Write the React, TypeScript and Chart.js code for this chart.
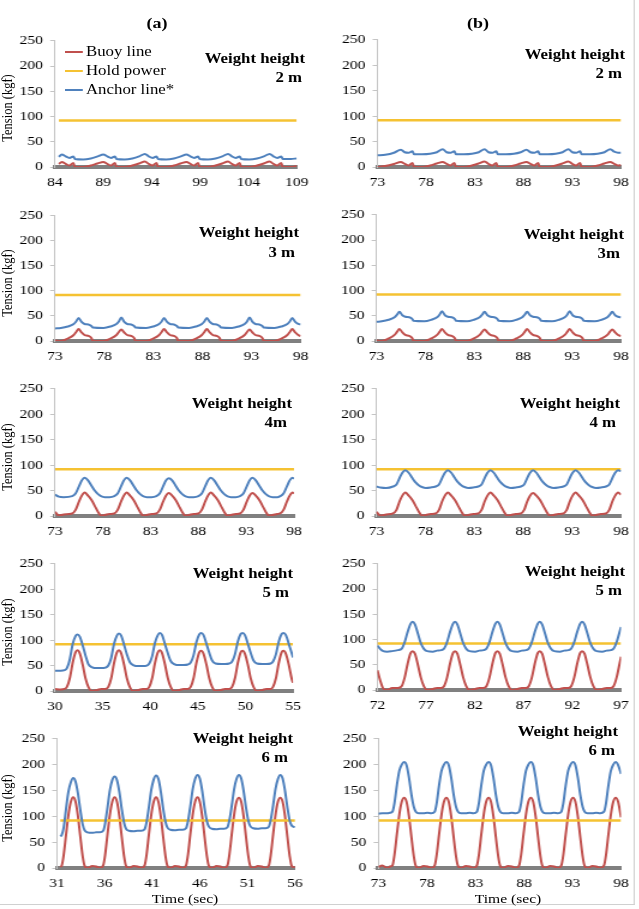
import { useEffect, useRef } from "react";
import { Chart, registerables } from "chart.js";

Chart.register(...registerables);

// ---------------- data ----------------

const HOLD_POWER = 92; // kgf
const SERIES_NAMES = ["Buoy line", "Hold power", "Anchor line*"];
const Y_TICKS = [0, 50, 100, 150, 200, 250];

const xTicks2a = [84, 89, 94, 99, 104, 109];
const xTicks73 = [73, 78, 83, 88, 93, 98];
const xTicks5a = [30, 35, 40, 45, 50, 55];
const xTicks5b = [72, 77, 82, 87, 92, 97];
const xTicks6a = [31, 36, 41, 46, 51, 56];

// (a) weight height 2 m
const time2a = [84.4, 84.7, 85.1, 85.5, 85.9, 86.05, 86.9, 87.7, 88.4, 89.0, 89.4, 89.8, 90.2, 90.35, 91.2, 92.0, 92.7, 93.3, 93.7, 94.1, 94.5, 94.65, 95.5, 96.3, 97.0, 97.6, 98.0, 98.4, 98.8, 98.95, 99.8, 100.6, 101.3, 101.9, 102.3, 102.7, 103.1, 103.25, 104.1, 104.9, 105.6, 106.2, 106.6, 107.0, 107.4, 107.55, 108.4, 109.0];
const buoy2a = [6, 10, 6, 3, 8, 0, 0, 3, 7, 10, 6, 3, 8, 0, 0, 3, 7, 11, 6, 3, 8, 0, 0, 3, 7, 10, 6, 3, 8, 0, 0, 3, 7, 11, 6, 3, 8, 0, 0, 3, 7, 11, 6, 3, 8, 0, 0, 2];
const anchor2a = [20, 25, 21, 18, 21, 16, 15, 17, 21, 25, 21, 18, 21, 16, 15, 17, 21, 26, 21, 18, 21, 16, 15, 17, 21, 25, 21, 18, 21, 16, 15, 17, 21, 26, 21, 18, 21, 16, 15, 17, 21, 26, 21, 18, 21, 16, 16, 17];

// (b) weight height 2 m
const time2b = [73.0, 73.8, 74.7, 75.4, 75.8, 76.2, 76.6, 76.75, 77.6, 78.4, 79.1, 79.7, 80.1, 80.5, 80.9, 81.05, 81.9, 82.7, 83.4, 84.0, 84.4, 84.8, 85.2, 85.35, 86.2, 87.0, 87.7, 88.3, 88.7, 89.1, 89.5, 89.65, 90.5, 91.3, 92.0, 92.6, 93.0, 93.4, 93.8, 93.95, 94.8, 95.6, 96.3, 96.9, 97.3, 97.7, 98.0];
const buoy2b = [0, 2, 6, 10, 6, 3, 8, 0, 0, 3, 7, 10, 6, 3, 8, 0, 0, 3, 7, 11, 6, 3, 8, 0, 0, 3, 7, 10, 6, 3, 8, 0, 0, 3, 7, 11, 6, 3, 8, 0, 0, 3, 7, 10, 6, 3, 4];
const anchor2b = [23, 24, 28, 34, 29, 28, 31, 25, 25, 26, 29, 35, 29, 28, 31, 25, 25, 26, 29, 35, 29, 28, 31, 25, 25, 26, 29, 34, 29, 28, 31, 25, 25, 26, 29, 35, 29, 28, 31, 25, 25, 26, 29, 35, 30, 28, 28];

// (a) weight height 3 m
const time3a = [73.0,
  73.6, 74.3, 74.9, 75.15, 75.4, 75.7, 76.0, 76.4, 76.7, 76.85,
  77.95, 78.65, 79.25, 79.5, 79.75, 80.05, 80.35, 80.75, 81.05, 81.2,
  82.3, 83.0, 83.6, 83.85, 84.1, 84.4, 84.7, 85.1, 85.4, 85.55,
  86.65, 87.35, 87.95, 88.2, 88.45, 88.75, 89.05, 89.45, 89.75, 89.9,
  91.0, 91.7, 92.3, 92.55, 92.8, 93.1, 93.4, 93.8, 94.1, 94.25,
  95.35, 96.05, 96.65, 96.9, 97.15, 97.45, 97.75, 98.0];
const buoy3a = [1,
  0, 5, 12, 18, 24, 17, 12, 10, 6, 0,
  0, 5, 12, 18, 23, 17, 12, 10, 6, 0,
  0, 5, 12, 18, 24, 17, 12, 10, 6, 0,
  0, 5, 12, 18, 24, 17, 12, 10, 6, 0,
  0, 5, 12, 18, 23, 17, 12, 10, 6, 0,
  0, 5, 12, 18, 24, 17, 12, 10];
const anchor3a = [25,
  26, 29, 34, 39, 46, 38, 34, 33, 30, 27,
  26, 29, 34, 39, 47, 38, 34, 33, 30, 27,
  26, 29, 34, 39, 46, 38, 34, 33, 30, 27,
  26, 29, 34, 39, 46, 38, 34, 33, 30, 27,
  26, 29, 34, 39, 47, 38, 34, 33, 30, 27,
  26, 29, 34, 39, 46, 38, 34, 33];

// (b) weight height 3 m
const time3b = [73.0,
  73.55, 74.25, 74.85, 75.1, 75.35, 75.65, 75.95, 76.35, 76.65, 76.8,
  77.9, 78.6, 79.2, 79.45, 79.7, 80.0, 80.3, 80.7, 81.0, 81.15,
  82.25, 82.95, 83.55, 83.8, 84.05, 84.35, 84.65, 85.05, 85.35, 85.5,
  86.6, 87.3, 87.9, 88.15, 88.4, 88.7, 89.0, 89.4, 89.7, 89.85,
  90.95, 91.65, 92.25, 92.5, 92.75, 93.05, 93.35, 93.75, 94.05, 94.2,
  95.3, 96.0, 96.6, 96.85, 97.1, 97.4, 97.7, 98.0];
const buoy3b = [1,
  0, 5, 12, 18, 24, 17, 12, 10, 6, 0,
  0, 5, 12, 18, 24, 17, 12, 10, 6, 0,
  0, 5, 12, 18, 23, 17, 12, 10, 6, 0,
  0, 5, 12, 18, 24, 17, 12, 10, 6, 0,
  0, 5, 12, 18, 24, 17, 12, 10, 6, 0,
  0, 5, 12, 18, 23, 17, 12, 10];
const anchor3b = [38,
  39, 42, 47, 52, 58, 51, 48, 47, 44, 40,
  39, 42, 47, 52, 59, 51, 48, 47, 44, 40,
  39, 42, 47, 52, 58, 51, 48, 47, 44, 40,
  39, 42, 47, 52, 58, 51, 48, 47, 44, 40,
  39, 42, 47, 52, 59, 51, 48, 47, 44, 40,
  39, 42, 47, 52, 58, 51, 48, 47];

// (a) weight height 4 m
const time4a = [73.0, 73.4, 73.9,
  74.8, 75.15, 75.5, 75.8, 76.1, 76.45, 76.8, 77.15, 77.5, 77.8, 78.2, 78.7,
  79.2, 79.55, 79.9, 80.2, 80.5, 80.85, 81.2, 81.55, 81.9, 82.2, 82.6, 83.1,
  83.6, 83.95, 84.3, 84.6, 84.9, 85.25, 85.6, 85.95, 86.3, 86.6, 87.0, 87.5,
  88.0, 88.35, 88.7, 89.0, 89.3, 89.65, 90.0, 90.35, 90.7, 91.0, 91.4, 91.9,
  92.35, 92.7, 93.05, 93.35, 93.65, 94.0, 94.35, 94.7, 95.05, 95.35, 95.75, 96.25,
  96.55, 96.9, 97.25, 97.55, 97.85, 98.0];
const buoy4a = [8, 1, 3,
  5, 12, 28, 40, 46, 40, 32, 20, 8, 1, 2, 4,
  5, 12, 28, 40, 46, 40, 32, 20, 8, 1, 2, 4,
  5, 12, 28, 40, 45, 40, 32, 20, 8, 1, 2, 4,
  5, 12, 28, 40, 46, 40, 32, 20, 8, 1, 2, 4,
  5, 12, 28, 40, 45, 40, 32, 20, 8, 1, 2, 4,
  5, 12, 28, 40, 46, 44];
const anchor4a = [42, 38, 37,
  39, 44, 58, 70, 75, 70, 60, 50, 43, 39, 37, 37,
  39, 44, 58, 70, 75, 70, 60, 50, 43, 39, 37, 37,
  39, 44, 58, 70, 74, 70, 60, 50, 43, 39, 37, 37,
  39, 44, 58, 70, 75, 70, 60, 50, 43, 39, 37, 37,
  39, 44, 58, 70, 75, 70, 60, 50, 43, 39, 37, 37,
  39, 44, 58, 70, 75, 73];

// (b) weight height 4 m
const time4b = [73.0, 73.4, 74.0,
  74.7, 75.05, 75.35, 75.65, 75.95, 76.3, 76.65, 77.0, 77.35, 77.65, 78.05, 78.55,
  79.05, 79.4, 79.7, 80.0, 80.3, 80.65, 81.0, 81.35, 81.7, 82.0, 82.4, 82.9,
  83.4, 83.75, 84.05, 84.35, 84.65, 85.0, 85.35, 85.7, 86.05, 86.35, 86.75, 87.25,
  87.75, 88.1, 88.4, 88.7, 89.0, 89.35, 89.7, 90.05, 90.4, 90.7, 91.1, 91.6,
  92.1, 92.45, 92.75, 93.05, 93.35, 93.7, 94.05, 94.4, 94.75, 95.05, 95.45, 95.95,
  96.45, 96.8, 97.1, 97.4, 97.7, 98.0];
const buoy4b = [8, 1, 3,
  5, 12, 28, 40, 46, 40, 32, 20, 8, 1, 2, 4,
  5, 12, 28, 40, 46, 40, 32, 20, 8, 1, 2, 4,
  5, 12, 28, 40, 46, 40, 32, 20, 8, 1, 2, 4,
  5, 12, 28, 40, 45, 40, 32, 20, 8, 1, 2, 4,
  5, 12, 28, 40, 46, 40, 32, 20, 8, 1, 2, 4,
  5, 12, 28, 40, 46, 42];
const anchor4b = [58, 56, 55,
  58, 62, 74, 85, 90, 85, 75, 66, 60, 57, 55, 56,
  58, 62, 74, 85, 90, 85, 75, 66, 60, 57, 55, 56,
  58, 62, 74, 85, 90, 85, 75, 66, 60, 57, 55, 56,
  58, 62, 74, 85, 90, 85, 75, 66, 60, 57, 55, 56,
  58, 62, 74, 85, 90, 85, 75, 66, 60, 57, 55, 56,
  58, 62, 74, 85, 90, 88];

// (a) weight height 5 m
const time5a = [30.0, 30.6, 31.0,
  31.25, 31.55, 31.85, 32.15, 32.35, 32.6, 32.9, 33.2, 33.5, 33.85, 34.45, 34.85, 35.3,
  35.6, 35.9, 36.2, 36.5, 36.7, 36.95, 37.25, 37.55, 37.85, 38.2, 38.8, 39.2, 39.65,
  39.9, 40.2, 40.5, 40.8, 41.0, 41.25, 41.55, 41.85, 42.15, 42.5, 43.1, 43.5, 43.95,
  44.25, 44.55, 44.85, 45.15, 45.35, 45.6, 45.9, 46.2, 46.5, 46.85, 47.45, 47.85, 48.3,
  48.6, 48.9, 49.2, 49.5, 49.7, 49.95, 50.25, 50.55, 50.85, 51.2, 51.8, 52.2, 52.65,
  52.9, 53.2, 53.5, 53.8, 54.0, 54.25, 54.55, 54.85, 55.0];
const buoy5a = [4, 3, 4,
  8, 25, 55, 76, 80, 74, 52, 25, 8, 0, 2, 4, 4,
  8, 25, 55, 76, 80, 74, 52, 25, 8, 0, 2, 4, 4,
  8, 25, 55, 76, 80, 74, 52, 25, 8, 0, 2, 4, 4,
  8, 25, 55, 76, 79, 73, 52, 25, 8, 0, 2, 4, 4,
  8, 25, 55, 76, 79, 73, 52, 25, 8, 0, 2, 4, 4,
  8, 25, 55, 76, 79, 73, 52, 25, 16];
const anchor5a = [40, 40, 41,
  45, 62, 92, 108, 111, 107, 90, 70, 53, 47, 45, 45, 46,
  50, 65, 93, 109, 113, 109, 91, 72, 57, 51, 49, 49, 50,
  54, 68, 95, 110, 114, 110, 92, 74, 59, 53, 51, 51, 52,
  56, 70, 96, 111, 114, 110, 93, 75, 60, 54, 53, 53, 54,
  58, 72, 97, 112, 114, 110, 93, 75, 60, 54, 53, 53, 54,
  58, 72, 97, 112, 114, 110, 93, 75, 66];

// (b) weight height 5 m
const time5b = [72.0, 72.3, 72.6, 73.0, 73.5, 74.1,
  74.5, 74.8, 75.1, 75.4, 75.6, 75.85, 76.15, 76.45, 76.75, 77.1, 77.7, 78.1, 78.55,
  78.85, 79.15, 79.45, 79.75, 79.95, 80.2, 80.5, 80.8, 81.1, 81.45, 82.05, 82.45, 82.9,
  83.2, 83.5, 83.8, 84.1, 84.3, 84.55, 84.85, 85.15, 85.45, 85.8, 86.4, 86.8, 87.25,
  87.55, 87.85, 88.15, 88.45, 88.65, 88.9, 89.2, 89.5, 89.8, 90.15, 90.75, 91.15, 91.6,
  91.9, 92.2, 92.5, 92.8, 93.0, 93.25, 93.55, 93.85, 94.15, 94.5, 95.1, 95.5, 95.95,
  96.25, 96.55, 96.85, 97.0];
const buoy5b = [39, 18, 3, 0, 4, 4,
  8, 25, 52, 73, 77, 72, 50, 25, 8, 0, 2, 4, 4,
  8, 25, 52, 73, 77, 72, 50, 25, 8, 0, 2, 4, 4,
  8, 25, 52, 73, 77, 72, 50, 25, 8, 0, 2, 4, 4,
  8, 25, 52, 73, 77, 72, 50, 25, 8, 0, 2, 4, 4,
  8, 25, 52, 73, 77, 72, 50, 25, 8, 0, 2, 4, 4,
  8, 25, 52, 66];
const anchor5b = [88, 81, 77, 76, 77, 79,
  82, 95, 115, 131, 135, 130, 112, 93, 82, 77, 76, 78, 79,
  82, 95, 115, 131, 135, 130, 112, 93, 82, 77, 76, 78, 79,
  82, 95, 115, 131, 135, 130, 112, 93, 82, 77, 76, 78, 79,
  82, 95, 115, 131, 135, 130, 112, 93, 82, 77, 76, 78, 79,
  82, 95, 115, 131, 135, 130, 112, 93, 82, 77, 76, 78, 79,
  82, 95, 115, 125];

// (a) weight height 6 m
const time6a = [31.35,
  31.5, 31.7, 31.95, 32.2, 32.45, 32.7, 32.95, 33.2, 33.45, 33.7, 33.9, 34.2, 34.7, 35.1, 35.5,
  35.85, 36.05, 36.3, 36.55, 36.8, 37.05, 37.3, 37.55, 37.8, 38.05, 38.25, 38.55, 39.05, 39.45, 39.85,
  40.2, 40.4, 40.65, 40.9, 41.15, 41.4, 41.65, 41.9, 42.15, 42.4, 42.6, 42.9, 43.4, 43.8, 44.2,
  44.55, 44.75, 45.0, 45.25, 45.5, 45.75, 46.0, 46.25, 46.5, 46.75, 46.95, 47.25, 47.75, 48.15, 48.55,
  48.9, 49.1, 49.35, 49.6, 49.85, 50.1, 50.35, 50.6, 50.85, 51.1, 51.3, 51.6, 52.1, 52.5, 52.9,
  53.25, 53.45, 53.7, 53.95, 54.2, 54.45, 54.7, 54.95, 55.2, 55.45, 55.65, 56.0];
const buoy6a = [2,
  5, 25, 65, 103, 128, 137, 128, 100, 60, 22, 4, 0, 4, 3, 0,
  5, 25, 65, 103, 128, 137, 128, 100, 60, 22, 4, 0, 4, 3, 0,
  5, 25, 65, 103, 128, 137, 128, 100, 60, 22, 4, 0, 4, 3, 0,
  5, 25, 65, 103, 128, 137, 128, 100, 60, 22, 4, 0, 4, 3, 0,
  5, 25, 65, 103, 128, 136, 128, 100, 60, 22, 4, 0, 4, 3, 0,
  5, 25, 65, 103, 128, 136, 128, 100, 60, 22, 4, 1];
const anchor6a = [61,
  64, 78, 115, 148, 166, 174, 167, 144, 112, 84, 73, 69, 68, 69, 69,
  72, 86, 117, 150, 170, 177, 170, 147, 114, 87, 76, 72, 71, 72, 72,
  75, 88, 118, 151, 171, 179, 172, 148, 115, 89, 78, 74, 73, 74, 74,
  77, 90, 119, 152, 172, 180, 173, 149, 116, 90, 80, 76, 75, 76, 76,
  79, 92, 120, 152, 172, 180, 173, 149, 117, 91, 81, 77, 76, 77, 77,
  80, 93, 121, 153, 172, 180, 173, 149, 117, 91, 82, 79];

// (b) weight height 6 m
const time6b = [73.0, 73.4, 73.9, 74.2,
  74.45, 74.65, 74.9, 75.15, 75.4, 75.65, 75.9, 76.15, 76.4, 76.65, 76.85, 77.15, 77.65, 78.05, 78.45,
  78.8, 79.0, 79.25, 79.5, 79.75, 80.0, 80.25, 80.5, 80.75, 81.0, 81.2, 81.5, 82.0, 82.4, 82.8,
  83.15, 83.35, 83.6, 83.85, 84.1, 84.35, 84.6, 84.85, 85.1, 85.35, 85.55, 85.85, 86.35, 86.75, 87.15,
  87.5, 87.7, 87.95, 88.2, 88.45, 88.7, 88.95, 89.2, 89.45, 89.7, 89.9, 90.2, 90.7, 91.1, 91.5,
  91.85, 92.05, 92.3, 92.55, 92.8, 93.05, 93.3, 93.55, 93.8, 94.05, 94.25, 94.55, 95.05, 95.45, 95.85,
  96.25, 96.45, 96.7, 96.95, 97.2, 97.45, 97.7, 98.0];
const buoy6b = [2, 5, 0, 3,
  5, 25, 65, 103, 128, 136, 128, 100, 60, 22, 4, 0, 4, 3, 0,
  5, 25, 65, 103, 128, 136, 128, 100, 60, 22, 4, 0, 4, 3, 0,
  5, 25, 65, 103, 128, 136, 128, 100, 60, 22, 4, 0, 4, 3, 0,
  5, 25, 65, 103, 128, 136, 128, 100, 60, 22, 4, 0, 4, 3, 0,
  5, 25, 65, 103, 128, 136, 128, 100, 60, 22, 4, 0, 4, 3, 0,
  5, 25, 65, 103, 128, 136, 128, 98];
const anchor6b = [105, 106, 106, 107,
  109, 125, 160, 188, 200, 205, 199, 175, 142, 118, 109, 106, 106, 107, 106,
  109, 125, 160, 188, 200, 205, 199, 175, 142, 118, 109, 106, 106, 107, 106,
  109, 125, 160, 188, 200, 205, 199, 175, 142, 118, 109, 106, 106, 107, 106,
  109, 125, 160, 188, 200, 205, 199, 175, 142, 118, 109, 106, 106, 107, 106,
  109, 125, 160, 188, 200, 205, 199, 175, 142, 118, 109, 106, 106, 107, 106,
  109, 125, 160, 188, 200, 205, 199, 182];

// ---------------- layout & style ----------------

const FIG_W = 639;
const FIG_H = 909;
const SX = 1.2; // the figure is drawn slightly wide: everything is stretched horizontally
const SERIF = "'Liberation Serif', 'Times New Roman', Times, serif";
const COLORS = { buoy: "#c0504d", hold: "#f5c232", anchor: "#4f81bd" };
const PAD_TOP = 12;
const X_AXIS_H = 26;
const COL_X = [0, 320];
const CANVAS_W = 318;

type Box = { pl: number; pr: number; pt: number; pb: number };
type Tag = { wr: number; wy: number; hr: number; hy: number };
type Panel = {
  id: string; col: number; time: number[]; buoy: number[]; anchor: number[];
  xMin: number; xMax: number; xTicks: number[]; height: string; box: Box; tag: Tag;
};

const PANELS: Panel[] = [
  { id: "a2", col: 0, time: time2a, buoy: buoy2a, anchor: anchor2a, xMin: 84, xMax: 109, xTicks: xTicks2a, height: "2 m",
    box: { pl: 55, pr: 302, pt: 39, pb: 167 }, tag: { wr: 305, wy: 59, hr: 302, hy: 78 } },
  { id: "b2", col: 1, time: time2b, buoy: buoy2b, anchor: anchor2b, xMin: 73, xMax: 98, xTicks: xTicks73, height: "2 m",
    box: { pl: 377, pr: 623, pt: 38, pb: 167 }, tag: { wr: 625, wy: 55, hr: 622, hy: 74 } },
  { id: "a3", col: 0, time: time3a, buoy: buoy3a, anchor: anchor3a, xMin: 73, xMax: 98, xTicks: xTicks73, height: "3 m",
    box: { pl: 55, pr: 301, pt: 214, pb: 341 }, tag: { wr: 299, wy: 233, hr: 295, hy: 253 } },
  { id: "b3", col: 1, time: time3b, buoy: buoy3b, anchor: anchor3b, xMin: 73, xMax: 98, xTicks: xTicks73, height: "3m",
    box: { pl: 376, pr: 622, pt: 213, pb: 341 }, tag: { wr: 624, wy: 235, hr: 620, hy: 254 } },
  { id: "a4", col: 0, time: time4a, buoy: buoy4a, anchor: anchor4a, xMin: 73, xMax: 98, xTicks: xTicks73, height: "4m",
    box: { pl: 55, pr: 294, pt: 387, pb: 516 }, tag: { wr: 292, wy: 404, hr: 287, hy: 423 } },
  { id: "b4", col: 1, time: time4b, buoy: buoy4b, anchor: anchor4b, xMin: 73, xMax: 98, xTicks: xTicks73, height: "4 m",
    box: { pl: 376, pr: 622, pt: 387, pb: 516 }, tag: { wr: 620, wy: 404, hr: 616, hy: 423 } },
  { id: "a5", col: 0, time: time5a, buoy: buoy5a, anchor: anchor5a, xMin: 30, xMax: 55, xTicks: xTicks5a, height: "5 m",
    box: { pl: 55, pr: 293, pt: 562, pb: 691 }, tag: { wr: 293, wy: 574, hr: 289, hy: 593 } },
  { id: "b5", col: 1, time: time5b, buoy: buoy5b, anchor: anchor5b, xMin: 72, xMax: 97, xTicks: xTicks5b, height: "5 m",
    box: { pl: 377, pr: 622, pt: 562, pb: 690 }, tag: { wr: 625, wy: 572, hr: 622, hy: 591 } },
  { id: "a6", col: 0, time: time6a, buoy: buoy6a, anchor: anchor6a, xMin: 31, xMax: 56, xTicks: xTicks6a, height: "6 m",
    box: { pl: 57, pr: 295, pt: 737, pb: 868 }, tag: { wr: 293, wy: 739, hr: 288, hy: 758 } },
  { id: "b6", col: 1, time: time6b, buoy: buoy6b, anchor: anchor6b, xMin: 73, xMax: 98, xTicks: xTicks73, height: "6 m",
    box: { pl: 378, pr: 622, pt: 737, pb: 868 }, tag: { wr: 618, wy: 732, hr: 615, hy: 751 } },
];

function PanelChart({ p }: { p: Panel }) {
  const ref = useRef<HTMLCanvasElement>(null);
  const cw = Math.round(CANVAS_W / SX);
  const left = COL_X[p.col] / SX;
  const yW = p.box.pl / SX - left;
  const plotW = (p.box.pr - p.box.pl) / SX;
  const padR = cw - yW - plotW;
  const top = p.box.pt - PAD_TOP;
  const ch = p.box.pb - p.box.pt + PAD_TOP + X_AXIS_H;

  useEffect(() => {
    const canvas = ref.current;
    if (!canvas) return;
    const pts = (ys: number[]) => p.time.map((x, i) => ({ x, y: ys[i] }));
    const tickStyle = { font: { family: SERIF, size: 13 }, color: "#000" };
    const chart = new Chart(canvas, {
      type: "line",
      data: {
        datasets: [
          { label: SERIES_NAMES[0], data: pts(p.buoy), borderColor: COLORS.buoy, borderWidth: 2,
            pointRadius: 0, cubicInterpolationMode: "monotone", order: 2 },
          { label: SERIES_NAMES[1],
            data: [{ x: p.time[0], y: HOLD_POWER }, { x: p.time[p.time.length - 1], y: HOLD_POWER }],
            borderColor: COLORS.hold, borderWidth: 2.4, pointRadius: 0, order: 1 },
          { label: SERIES_NAMES[2], data: pts(p.anchor), borderColor: COLORS.anchor, borderWidth: 2,
            pointRadius: 0, cubicInterpolationMode: "monotone", order: 0 },
        ],
      },
      options: {
        responsive: false,
        animation: false,
        events: [],
        layout: { padding: { top: PAD_TOP, right: padR, left: 0, bottom: 0 } },
        plugins: { legend: { display: false }, tooltip: { enabled: false } },
        scales: {
          x: {
            type: "linear", min: p.xMin, max: p.xMax,
            afterBuildTicks: (s: any) => { s.ticks = p.xTicks.map((value) => ({ value })); },
            afterFit: (s: any) => { s.height = X_AXIS_H; },
            grid: { display: false, drawTicks: false },
            border: { display: true, color: "#808080", width: 4 },
            ticks: { ...tickStyle, padding: 8, maxRotation: 0, autoSkip: false, callback: (v: any) => String(v) },
          },
          y: {
            min: 0, max: 250,
            afterBuildTicks: (s: any) => { s.ticks = Y_TICKS.map((value) => ({ value })); },
            afterFit: (s: any) => { s.width = yW; },
            grid: { drawOnChartArea: false, drawTicks: true, tickLength: 4, color: "#c4c4c4" },
            border: { display: true, color: "#c4c4c4", width: 1 },
            ticks: { ...tickStyle, padding: 6 },
          },
        },
      },
    } as any);
    return () => chart.destroy();
  }, [p]);

  return (
    <canvas
      ref={ref}
      width={cw}
      height={ch}
      style={{ position: "absolute", left, top, width: cw, height: ch }}
    />
  );
}

function Label({ x, y, align, size, bold, children }: any) {
  const tx = align === "right" ? "-100%" : align === "center" ? "-50%" : "0";
  return (
    <div
      style={{
        position: "absolute", left: x / SX, top: y,
        transform: `translate(${tx}, -50%)`,
        font: `${bold ? "bold " : ""}${size}px ${SERIF}`,
        lineHeight: 1, whiteSpace: "nowrap", color: "#000",
      }}
    >
      {children}
    </div>
  );
}

const LEGEND_ROWS = [
  { name: SERIES_NAMES[0], color: COLORS.buoy, y: 52 },
  { name: SERIES_NAMES[1], color: COLORS.hold, y: 71 },
  { name: SERIES_NAMES[2], color: COLORS.anchor, y: 90 },
];

export default function App() {
  return (
    <div style={{ position: "absolute", left: 0, top: 0, width: FIG_W, height: FIG_H, overflow: "hidden", background: "#fff" }}>
      <div
        style={{
          position: "absolute", left: 0, top: 0, width: FIG_W / SX, height: FIG_H,
          transform: `scaleX(${SX})`, transformOrigin: "0 0",
        }}
      >
        <div
          style={{
            position: "absolute", left: 0, top: 0, width: 635 / SX, height: 905, boxSizing: "border-box",
            borderRight: "1px solid #d0d0d0", borderBottom: "1px solid #d0d0d0",
          }}
        />
        {PANELS.map((p) => (
          <PanelChart key={p.id} p={p} />
        ))}

        <Label x={157} y={23} align="center" size={15} bold>(a)</Label>
        <Label x={478} y={23} align="center" size={15} bold>(b)</Label>

        {PANELS.map((p) => (
          <div key={p.id + "-tag"}>
            <Label x={p.tag.wr} y={p.tag.wy} align="right" size={14} bold>Weight height</Label>
            <Label x={p.tag.hr} y={p.tag.hy} align="right" size={14} bold>{p.height}</Label>
          </div>
        ))}

        {PANELS.filter((p) => p.col === 0).map((p) => (
          <div
            key={p.id + "-ytitle"}
            style={{
              position: "absolute", left: 7 / SX, top: (p.box.pt + p.box.pb) / 2 + 5,
              transform: "translate(-50%, -50%) rotate(-90deg)",
              font: `12.5px ${SERIF}`, lineHeight: 1, whiteSpace: "nowrap", color: "#000",
            }}
          >
            Tension (kgf)
          </div>
        ))}

        <Label x={185} y={898} align="center" size={13}>Time (sec)</Label>
        <Label x={508} y={898} align="center" size={13}>Time (sec)</Label>

        {LEGEND_ROWS.map((r) => (
          <div key={r.name}>
            <div
              style={{
                position: "absolute", left: 65 / SX, top: r.y - 1, width: 18 / SX, height: 2, background: r.color,
              }}
            />
            <Label x={86} y={r.y} align="left" size={14}>{r.name}</Label>
          </div>
        ))}
      </div>
    </div>
  );
}
